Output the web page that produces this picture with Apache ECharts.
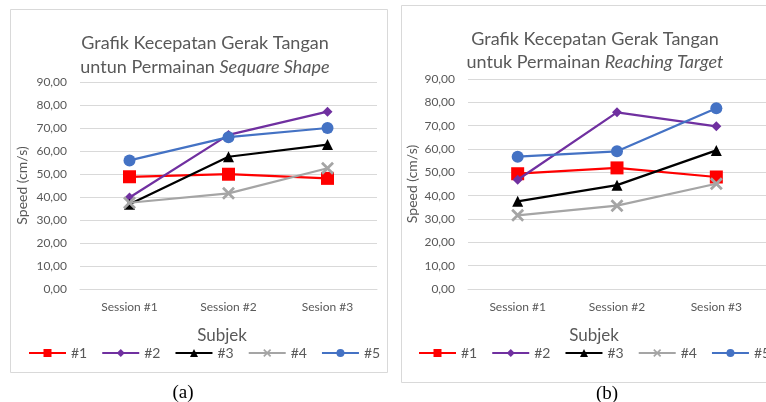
<!DOCTYPE html>
<html>
<head>
<meta charset="utf-8">
<script src="https://cdn.jsdelivr.net/npm/echarts@6/dist/echarts.min.js"></script>
<style>
html,body{margin:0;padding:0;background:#fff;}
#c{width:766px;height:402px;}
</style>
</head>
<body>
<div id="c"></div>
<script>
// ---- data ----
const categories = ['Session #1', 'Session #2', 'Sesion #3'];
const seriesNames = ['#1', '#2', '#3', '#4', '#5'];

// (a) Sequare Shape
const squareS1 = [48.8, 49.9, 48.1];
const squareS2 = [39.8, 67.0, 77.1];
const squareS3 = [36.8, 57.5, 62.8];
const squareS4 = [37.5, 41.6, 52.5];
const squareS5 = [55.9, 66.0, 70.0];

// (b) Reaching Target
const reachS1 = [49.4, 51.9, 48.0];
const reachS2 = [46.8, 75.7, 69.7];
const reachS3 = [37.6, 44.5, 59.4];
const reachS4 = [31.6, 35.7, 45.1];
const reachS5 = [56.7, 59.0, 77.5];

const yTicksMin = 0, yTicksMax = 90, yTicksStep = 10;

// ---- styles ----
const colors = ['#ff0000', '#7030a0', '#000000', '#a5a5a5', '#4472c4'];
const xPath = 'path://M0,1.5 L1.5,0 L5,3.5 L8.5,0 L10,1.5 L6.5,5 L10,8.5 L8.5,10 L5,6.5 L1.5,10 L0,8.5 L3.5,5 Z';
const symbols = ['rect', 'diamond', 'triangle', xPath, 'circle'];
const symbolSizes = [13, 10, 11, 13, 12];
const FONT = 'Lato';
const TXT = '#595959';

const squareData = [squareS1, squareS2, squareS3, squareS4, squareS5];
const reachData = [reachS1, reachS2, reachS3, reachS4, reachS5];

function makeSeries(dataArr, idx) {
  return dataArr.map((d, i) => ({
    name: seriesNames[i],
    type: 'line',
    xAxisIndex: idx,
    yAxisIndex: idx,
    data: d,
    symbol: symbols[i],
    symbolSize: symbolSizes[i],
    showAllSymbol: true,
    lineStyle: { color: colors[i], width: 2.25 },
    itemStyle: { color: colors[i] },
    emphasis: { disabled: true },
    animation: false,
    z: 3 + i
  }));
}

function yAxis(idx) {
  return {
    type: 'value', gridIndex: idx,
    min: yTicksMin, max: yTicksMax, interval: yTicksStep,
    name: 'Speed (cm/s)', nameLocation: 'middle', nameGap: idx === 0 ? 51 : 49,
    nameTextStyle: { color: TXT, fontFamily: FONT, fontSize: 14 },
    axisLine: { show: false }, axisTick: { show: false },
    axisLabel: { color: TXT, fontFamily: FONT, fontSize: 12, margin: 13,
      formatter: v => v.toFixed(2).replace('.', ',') },
    splitLine: { lineStyle: { color: '#d9d9d9', width: 1 } }
  };
}
function xAxis(idx) {
  return {
    type: 'category', gridIndex: idx, data: categories,
    boundaryGap: true,
    axisLine: { show: true, lineStyle: { color: '#d9d9d9' } },
    axisTick: { show: false },
    axisLabel: { color: TXT, fontFamily: FONT, fontSize: 12, margin: 12 },
    splitLine: { show: false }
  };
}
function legend(left, idx) {
  return {
    left: left, top: 346, width: 420, padding: 0,
    data: seriesNames.map(n => ({ name: n })),
    itemWidth: 37, itemHeight: 10, itemGap: 14,
    textStyle: { color: TXT, fontFamily: FONT, fontSize: 14 },
    selectedMode: false
  };
}

const chart = echarts.init(document.getElementById('c'), null, { renderer: 'canvas' });
chart.setOption({
  backgroundColor: '#ffffff',
  animation: false,
  title: [
    { text: 'Grafik Kecepatan Gerak Tangan\nuntun Permainan {i|Sequare Shape}',
      left: 200, top: 26, textAlign: 'center',
      textStyle: { color: TXT, fontFamily: FONT, fontSize: 18, fontWeight: 'normal', lineHeight: 24,
        rich: { i: { fontStyle: 'italic', color: TXT, fontFamily: FONT, fontSize: 18, lineHeight: 24 } } } },
    { text: 'Grafik Kecepatan Gerak Tangan\nuntuk Permainan {i|Reaching Target}',
      left: 590, top: 23, textAlign: 'center',
      textStyle: { color: TXT, fontFamily: FONT, fontSize: 18, fontWeight: 'normal', lineHeight: 23,
        rich: { i: { fontStyle: 'italic', color: TXT, fontFamily: FONT, fontSize: 18, lineHeight: 23 } } } },
    { text: 'Subjek', left: 217, top: 322, textAlign: 'center',
      textStyle: { color: TXT, fontFamily: FONT, fontSize: 17, fontWeight: 'normal' } },
    { text: 'Subjek', left: 589, top: 322, textAlign: 'center',
      textStyle: { color: TXT, fontFamily: FONT, fontSize: 17, fontWeight: 'normal' } },
    { text: '(a)', left: 178, top: 379, textAlign: 'center',
      textStyle: { color: '#000', fontFamily: 'Liberation Serif', fontSize: 19, fontWeight: 'normal' } },
    { text: '(b)', left: 602, top: 380, textAlign: 'center',
      textStyle: { color: '#000', fontFamily: 'Liberation Serif', fontSize: 19, fontWeight: 'normal' } }
  ],
  graphic: [
    { type: 'rect', shape: { x: 10.5, y: 9.5, width: 377, height: 363 },
      style: { fill: 'none', stroke: '#d9d9d9', lineWidth: 1 }, z: -1 },
    { type: 'rect', shape: { x: 401.5, y: 5.5, width: 380, height: 377 },
      style: { fill: 'none', stroke: '#d9d9d9', lineWidth: 1 }, z: -1 }
  ],
  grid: [
    { left: 80, top: 82, width: 297, height: 207 },
    { left: 468, top: 79, width: 300, height: 210 }
  ],
  xAxis: [xAxis(0), xAxis(1)],
  yAxis: [yAxis(0), yAxis(1)],
  legend: [legend(28, 0), legend(418, 1)],
  series: makeSeries(squareData, 0).concat(makeSeries(reachData, 1))
});
</script>
</body>
</html>
